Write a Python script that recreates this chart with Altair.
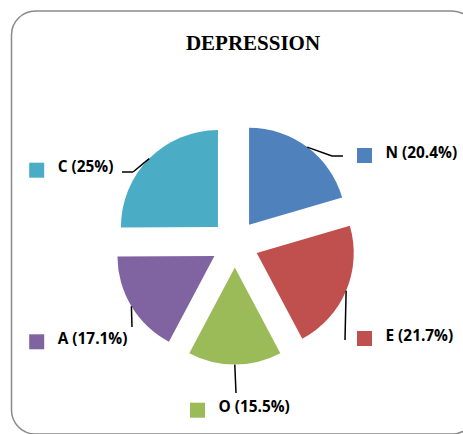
import altair as alt
import pandas as pd

# ---- data ----
cats = ["N", "E", "O", "A", "C"]
values = [20.4, 21.7, 15.5, 17.1, 25.0]
colors = ["#4F81BD", "#C0504D", "#9BBB59", "#8064A2", "#4BACC6"]
title_text = "DEPRESSION"

# ---- layout (pixels) ----
CX, CY = 234.8, 243.8   # pie centre
D = 23.8                # explode distance
R = 97                  # slice radius
marker_cx = [364.5, 364.5, 197.5, 36.7, 36.7]
marker_cy = [155.5, 338.5, 410.2, 341.8, 170.2]
elbow_x = [332, 345, 236, 132, 133]
elbow_y = [156, 340, 393, 327, 172]
end_x = [343, 345, 236, 132, 122]
end_y = [156, 340, 393, 327, 172]

df = pd.DataFrame({
    "idx": list(range(len(cats))),
    "cat": cats,
    "value": values,
    "label": [f"{c} ({v:g}%)" for c, v in zip(cats, values)],
    "mx": marker_cx, "my": marker_cy,
    "bx": elbow_x, "by": elbow_y,
    "nx": end_x, "ny": end_y,
})

base = (
    alt.Chart(df)
    .transform_window(cum="sum(value)", sort=[alt.SortField("idx")])
    .transform_joinaggregate(total="sum(value)")
    .transform_calculate(
        a0="2*PI*(datum.cum-datum.value)/datum.total",
        a1="2*PI*datum.cum/datum.total",
    )
    .transform_calculate(mid="(datum.a0+datum.a1)/2")
    .transform_calculate(
        ox=f"{CX}+{D}*sin(datum.mid)",
        oy=f"{CY}-{D}*cos(datum.mid)",
    )
    .transform_calculate(
        ex=f"datum.ox+{R}*sin(datum.mid)",
        ey=f"datum.oy-{R}*cos(datum.mid)",
        rx0="datum.mx-7.5", rx1="datum.mx+7.5",
        ry0="datum.my-7.5", ry1="datum.my+7.5",
        tx="datum.mx+21", ty="datum.my+2",
    )
)

color = alt.Color("cat:N", scale=alt.Scale(domain=cats, range=colors), legend=None)

arcs = base.mark_arc(radius=R).encode(
    theta=alt.Theta("a0:Q", scale=None),
    theta2="a1:Q",
    x=alt.X("ox:Q", scale=None),
    y=alt.Y("oy:Q", scale=None),
    color=color,
)

lead1 = base.mark_rule(color="black", strokeWidth=1.5).encode(
    x=alt.X("ex:Q", scale=None), y=alt.Y("ey:Q", scale=None),
    x2="bx:Q", y2="by:Q",
)
lead2 = base.mark_rule(color="black", strokeWidth=1.5).encode(
    x=alt.X("bx:Q", scale=None), y=alt.Y("by:Q", scale=None),
    x2="nx:Q", y2="ny:Q",
)

markers = base.mark_rect().encode(
    x=alt.X("rx0:Q", scale=None), x2="rx1:Q",
    y=alt.Y("ry0:Q", scale=None), y2="ry1:Q",
    color=color,
)

labels = base.mark_text(
    align="left", baseline="alphabetic", font="Open Sans",
    fontWeight="bold", fontSize=15.4, color="black",
).encode(
    x=alt.X("tx:Q", scale=None), y=alt.Y("ty:Q", scale=None), text="label:N",
)

one = alt.Data(values=[{"t": title_text}])
title = alt.Chart(one).mark_text(
    font="Liberation Serif", fontWeight="bold", fontSize=21,
    align="center", baseline="alphabetic", color="black",
).encode(x=alt.value(253), y=alt.value(50), text="t:N")

border = alt.Chart(one).mark_rect(
    fill=None, stroke="#8a8a8a", strokeWidth=1.5, cornerRadius=24,
).encode(x=alt.value(11.5), y=alt.value(11), x2=alt.value(476), y2=alt.value(434))

chart = alt.layer(border, title, arcs, lead1, lead2, markers, labels).properties(
    width=463, height=434, autosize=alt.AutoSizeParams(type="none"), padding=0,
).configure_view(stroke=None)

chart.save("out.html", embed_options={"renderer": "svg", "actions": False})
